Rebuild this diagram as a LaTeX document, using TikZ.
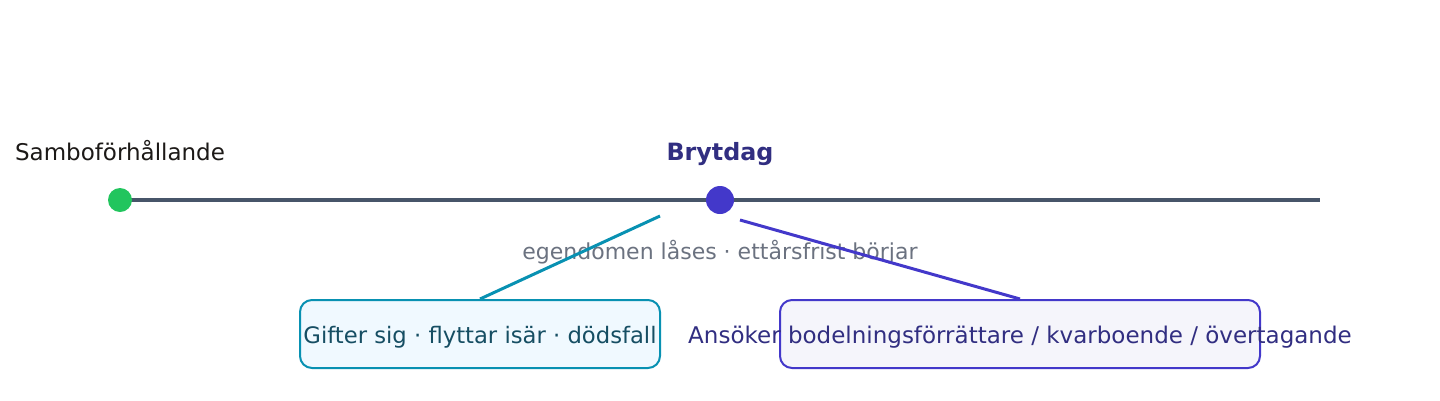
\documentclass[tikz,border=0pt]{standalone}
\usepackage{fontspec}
\setmainfont{DejaVu Sans}
\definecolor{slateline}{HTML}{475569}
\definecolor{greendot}{HTML}{22C55E}
\definecolor{indigodot}{HTML}{4338CA}
\definecolor{indigotext}{HTML}{312E81}
\definecolor{tealstroke}{HTML}{0891B2}
\definecolor{tealtext}{HTML}{164E63}
\definecolor{tealfill}{HTML}{F0F9FF}
\definecolor{indigofill}{HTML}{F5F5FB}
\definecolor{graytext}{HTML}{6B7280}
\definecolor{darktext}{HTML}{1C1917}
\tikzset{
  dot/.style={circle,inner sep=0pt,minimum size=#1},
  lbl/.style={inner sep=0pt,anchor=base,font=\fontsize{23}{27}\selectfont},
  boxshape/.style={draw=#1,line width=2pt,rounded corners=12pt,minimum width=360pt,minimum height=68pt,inner sep=0pt},
  connector/.style={line width=3pt,draw=#1},
}
\begin{document}
\begin{tikzpicture}[x=1pt,y=-1pt]
\useasboundingbox (0,0) rectangle (1440,400);
% timeline
\coordinate (tstart) at (120,200);
\coordinate (tend) at (1320,200);
\draw[slateline,line width=4pt] (tstart) -- (tend);
\node[dot=24pt,fill=greendot] (sambo) at (120,200) {};
\node[dot=28pt,fill=indigodot] (bryt) at (720,200) {};
% labels
\node[lbl,text=darktext] (samboLbl) at (120,160) {Samboförhållande};
\node[lbl,text=indigotext,font=\fontsize{23.8}{28}\selectfont\bfseries] (brytLbl) at (720,160) {Brytdag};
\node[lbl,text=graytext,font=\fontsize{22}{26}\selectfont] (lock) at (720,259) {egendomen låses · ettårsfrist börjar};
% boxes
\node[boxshape=tealstroke,fill=tealfill,minimum width=360pt] (leftBox) at (480,334) {};
\node[lbl,text=tealtext,font=\fontsize{22.7}{27}\selectfont] (leftTxt) at (480,343) {Gifter sig · flyttar isär · dödsfall};
\node[boxshape=indigodot,fill=indigofill,minimum width=480pt] (rightBox) at (1020,334) {};
\node[lbl,text=indigotext] (rightTxt) at (1020,343) {Ansöker bodelningsförrättare / kvarboende / övertagande};
% connectors
\coordinate (lfrom) at (660,216);
\coordinate (rfrom) at (740,220);
\draw[connector=tealstroke] (lfrom) -- (leftBox.north);
\draw[connector=indigodot] (rfrom) -- (rightBox.north);
\end{tikzpicture}
\end{document}
